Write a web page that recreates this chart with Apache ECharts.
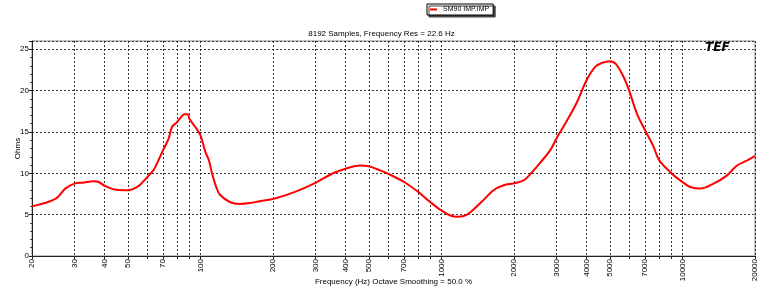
<!DOCTYPE html>
<html>
<head>
<meta charset="utf-8">
<script src="https://cdn.jsdelivr.net/npm/echarts@6/dist/echarts.min.js"></script>
<style>
  html, body { margin: 0; padding: 0; background: #fff; }
  #chart { width: 763px; height: 288px; }
</style>
</head>
<body>
<div id="chart"></div>
<script>
// impedance curve (Hz, ohms)
var freqs = [20, 25, 27.5, 30, 32.7, 36, 37.8, 40, 44.8, 50, 54.6, 57, 60, 63.9, 67, 70,
  73.8, 76.2, 79.4, 82, 85.9, 88.6, 90, 95.2, 100, 104.8, 108.3, 111.7, 116.4, 120.5,
  133, 146, 160.6, 174.3, 200, 243.7, 300, 351.5, 400, 460, 500, 557, 600, 700, 800,
  900, 1000, 1088, 1170, 1277, 1450, 1646, 1811, 2000, 2193, 2337, 2571, 2829, 3000,
  3320, 3651, 4000, 4351, 4635, 5000, 5300, 5700, 6000, 6478, 7000, 7593, 8000, 9050,
  10000, 10780, 11860, 13460, 15310, 16840, 18580, 20000];
var ohms = [6.0, 6.9, 8.15, 8.75, 8.87, 9.03, 8.95, 8.5, 8.0, 7.95, 8.35, 8.8, 9.5, 10.4, 11.6, 12.8,
  14.2, 15.6, 16.1, 16.6, 17.15, 17.15, 16.6, 15.6, 14.6, 12.6, 11.6, 10.0, 8.3, 7.4,
  6.5, 6.3, 6.4, 6.6, 6.9, 7.7, 8.85, 9.95, 10.55, 10.95, 10.85, 10.35, 9.95, 8.95, 7.75,
  6.5, 5.5, 4.9, 4.75, 5.0, 6.4, 7.95, 8.55, 8.8, 9.15, 9.9, 11.3, 12.8, 14.2,
  16.4, 18.6, 21.25, 22.9, 23.35, 23.55, 23.2, 21.65, 20.05, 17.2, 15.2, 13.2, 11.6, 9.95,
  8.95, 8.35, 8.15, 8.75, 9.75, 10.95, 11.55, 12.1];

var gridFreqs = [20, 30, 40, 50, 60, 70, 80, 90, 100, 200, 300, 400, 500, 600, 700, 800, 900,
  1000, 2000, 3000, 4000, 5000, 6000, 7000, 8000, 9000, 10000, 20000];
var labelFreqs = [20, 30, 40, 50, 70, 100, 200, 300, 400, 500, 700, 1000, 2000, 3000, 4000,
  5000, 7000, 10000, 20000];

var seriesName = 'SM90 IMP.IMP';
var titleText = '8192 Samples, Frequency Res = 22.6 Hz';
var xName = 'Frequency (Hz) Octave Smoothing = 50.0 %';
var yName = 'Ohms';

var font = 'Liberation Sans, Arial, sans-serif';
var chart = echarts.init(document.getElementById('chart'));

var points = [];
for (var i = 0; i < freqs.length; i++) {
  points.push([freqs[i], ohms[i]]);
}

chart.setOption({
  animation: false,
  textStyle: { fontFamily: font },
  title: {
    text: titleText,
    left: 'center',
    top: 25,
    textStyle: { fontSize: 8, fontWeight: 'normal', color: '#000', fontFamily: font }
  },
  legend: {
    left: 427,
    top: 4,
    padding: [2, 4, 2, 3],
    itemWidth: 7,
    itemHeight: 2,
    itemGap: 2,
    icon: 'rect',
    backgroundColor: '#fff',
    borderColor: '#000',
    borderWidth: 1,
    shadowColor: '#444',
    shadowOffsetX: 2,
    shadowOffsetY: 2,
    textStyle: { fontSize: 7, color: '#000', fontFamily: font, padding: [0, 0, 0, 1] },
    data: [{ name: seriesName }]
  },
  grid: {
    left: 32,
    right: 8,
    top: 41,
    bottom: 32,
    outerBoundsMode: 'none',
    containLabel: false,
    show: true,
    borderColor: '#888',
    borderWidth: 1
  },
  graphic: [{
    type: 'text',
    left: 705,
    top: 42,
    style: {
      text: 'TEF',
      font: 'italic 900 12px "DejaVu Sans", sans-serif',
      fill: '#000'
    }
  }],
  xAxis: {
    type: 'log',
    logBase: 10,
    min: 20,
    max: 20000,
    name: xName,
    nameLocation: 'middle',
    nameGap: 22,
    nameMoveOverlap: false,
    nameTextStyle: { fontSize: 8, color: '#000' },
    axisLine: { show: true, lineStyle: { color: '#222', width: 1 } },
    axisTick: {
      show: true,
      length: 3,
      customValues: gridFreqs,
      lineStyle: { color: '#222' }
    },
    axisLabel: {
      customValues: labelFreqs,
      rotate: 90,
      margin: 3,
      fontSize: 8,
      color: '#000',
      formatter: function (v) { return String(Math.round(v)); }
    },
    splitLine: {
      show: true,
      lineStyle: { color: '#333', type: [2, 2], width: 1 }
    },
    minorTick: { show: false },
    minorSplitLine: { show: false }
  },
  yAxis: {
    type: 'value',
    min: 0,
    max: 26,
    interval: 5,
    name: yName,
    nameLocation: 'middle',
    nameGap: 10,
    nameMoveOverlap: false,
    nameTextStyle: { fontSize: 8, color: '#000' },
    axisLine: { show: true, lineStyle: { color: '#222', width: 1 } },
    axisTick: { show: true, length: 3, lineStyle: { color: '#222' } },
    minorTick: { show: true, splitNumber: 5, length: 2, lineStyle: { color: '#444' } },
    axisLabel: {
      fontSize: 8,
      color: '#000',
      margin: 3,
      showMaxLabel: false
    },
    splitLine: {
      show: true,
      lineStyle: { color: '#333', type: [2, 2], width: 1 }
    }
  },
  series: [{
    name: seriesName,
    type: 'line',
    data: points,
    smooth: 0.35,
    showSymbol: false,
    itemStyle: { color: '#ff0000' },
    lineStyle: { color: '#ff0000', width: 2 }
  }]
});
</script>
</body>
</html>
